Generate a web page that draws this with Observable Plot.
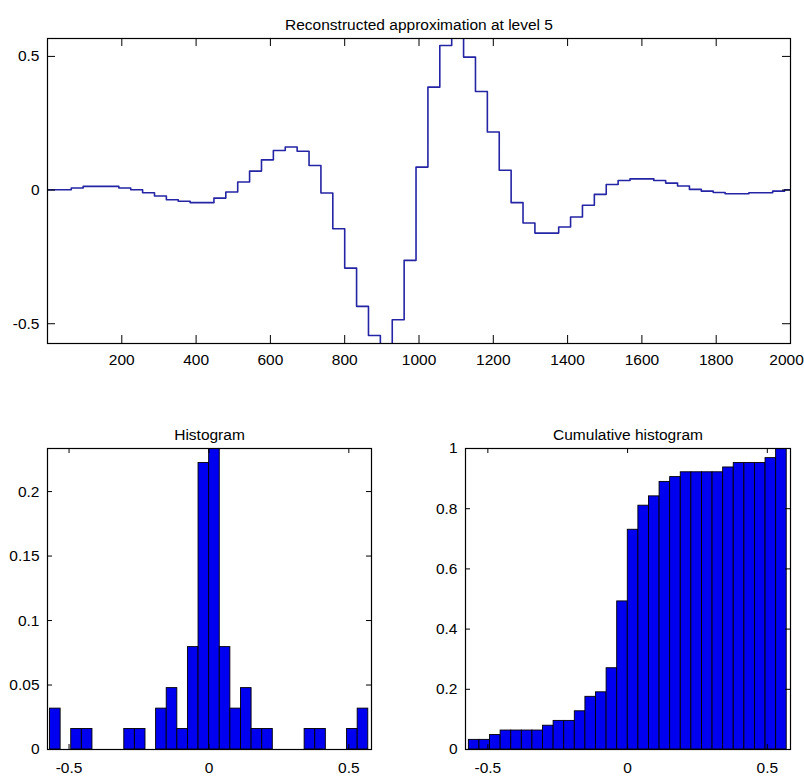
<!DOCTYPE html>
<html><head><meta charset="utf-8">
<script src="https://cdn.jsdelivr.net/npm/d3@7"></script>
<script src="https://cdn.jsdelivr.net/npm/@observablehq/plot@0.6"></script>
<style>
body{margin:0;background:#fff}
#wrap{position:relative;width:804px;height:777px;background:#fff}
.p{position:absolute}
</style>
</head><body><div id="wrap"></div>
<script>
// ---- data ----
const topTitle = "Reconstructed approximation at level 5";
const histTitle = "Histogram";
const cumTitle = "Cumulative histogram";

// level-5 approximation: one value per 32-sample step
const approxValues = [
  0.001, 0.001, 0.0075, 0.0137, 0.0137, 0.0137, 0.0075, 0.001,
  -0.010, -0.022, -0.036, -0.042, -0.047, -0.047, -0.030, -0.0075,
  0.030, 0.071, 0.113, 0.148, 0.161, 0.145, 0.092, -0.011,
  -0.145, -0.292, -0.435, -0.544, -0.62, -0.485, -0.263, 0.086,
  0.385, 0.541, 0.60, 0.4975, 0.369, 0.217, 0.074, -0.047,
  -0.123, -0.161, -0.161, -0.138, -0.101, -0.057, -0.016, 0.021,
  0.036, 0.042, 0.042, 0.036, 0.026, 0.015, 0.0025, -0.004,
  -0.009, -0.014, -0.014, -0.010, -0.010, -0.004, 0.001
];
const stepWidth = 32;
const topXDomain = [0, 2000];
const topYDomain = [-0.574, 0.567];
const topXTicks = [200, 400, 600, 800, 1000, 1200, 1400, 1600, 1800, 2000];
const topYTicks = [-0.5, 0, 0.5];

// histogram (30 bins between data min and max)
const binLow = -0.568, binHigh = 0.5695;
const histFractions = [
  0.0317, 0, 0.0159, 0.0159, 0, 0, 0, 0.0159, 0.0159, 0,
  0.0317, 0.0476, 0.0159, 0.0794, 0.2222, 0.2381, 0.0794, 0.0317, 0.0476, 0.0159,
  0.0159, 0, 0, 0, 0.0159, 0.0159, 0, 0, 0.0159, 0.0317
];
const cumFractions = [
  0.032, 0.032, 0.048, 0.063, 0.063, 0.063, 0.063, 0.079, 0.095, 0.095,
  0.127, 0.175, 0.190, 0.270, 0.492, 0.730, 0.810, 0.841, 0.889, 0.905,
  0.921, 0.921, 0.921, 0.921, 0.937, 0.952, 0.952, 0.952, 0.968, 1.0
];
const histXDomain = [-0.577, 0.581];
const histYDomain = [0, 0.2334];
const cumXDomain = [-0.58, 0.583];
const cumYDomain = [0, 1];
const histXTicks = [-0.5, 0, 0.5];
const histYTicks = [0, 0.05, 0.1, 0.15, 0.2];
const cumYTicks = [0, 0.2, 0.4, 0.6, 0.8, 1];

// ---- helpers ----
const font = "'Liberation Sans', Arial, Helvetica, sans-serif";
const fs = 15.5;
const fmt = d => String(d);
const lineColor = "#2424a4";
const barColor = "#0000f0";

function boxTicks(xt, yt, len, fw, fh) {
  return [
    Plot.tickX(xt, {x: d => d, insetTop: fh - len, stroke: "#000"}),
    Plot.tickX(xt, {x: d => d, insetBottom: fh - len, stroke: "#000"}),
    Plot.tickY(yt, {y: d => d, insetRight: fw - len, stroke: "#000"}),
    Plot.tickY(yt, {y: d => d, insetLeft: fw - len, stroke: "#000"})
  ];
}
function xLabels(xt, pad, dx = 0) {
  return Plot.axisX({ticks: xt, tickSize: 0, tickPadding: pad, tickFormat: fmt, label: null, fill: "#000", fontSize: fs, dx});
}
function yLabels(yt, pad) {
  return Plot.axisY({ticks: yt, tickSize: 0, tickPadding: pad, tickFormat: fmt, label: null, fill: "#000", fontSize: fs});
}
function place(svg, left, top) {
  const d = document.createElement("div");
  d.className = "p";
  d.style.left = left + "px";
  d.style.top = top + "px";
  d.appendChild(svg);
  document.getElementById("wrap").appendChild(d);
}
const baseStyle = {fontFamily: font, fontSize: fs + "px", background: "#fff", color: "#000"};

// ---- top: step line ----
{
  const W = 804, H = 380, ml = 47, mr = 14, mt = 38, mb = 37;
  const pts = approxValues.map((v, k) => ({x: k * stepWidth, y: v}));
  pts.push({x: approxValues.length * stepWidth, y: approxValues[approxValues.length - 1]});
  const lastTick = topXTicks[topXTicks.length - 1];
  const svg = Plot.plot({
    width: W, height: H, marginLeft: ml, marginRight: mr, marginTop: mt, marginBottom: mb,
    style: baseStyle,
    x: {domain: topXDomain, axis: null},
    y: {domain: topYDomain, axis: null},
    marks: [
      Plot.line(pts, {x: "x", y: "y", curve: "step-after", stroke: lineColor, strokeWidth: 1.6, clip: true}),
      ...boxTicks(topXTicks, topYTicks, 8, W - ml - mr, H - mt - mb),
      Plot.frame({stroke: "#000", strokeWidth: 1.2}),
      xLabels(topXTicks.filter(t => t !== lastTick), 10),
      xLabels([lastTick], 10, -4),
      yLabels(topYTicks, 8),
      Plot.text([topTitle], {text: d => d, frameAnchor: "top", dy: -20, fontSize: fs, fill: "#000"})
    ]
  });
  place(svg, 0, 0);
}

// ---- bottom histograms ----
const nBins = histFractions.length;
const binW = (binHigh - binLow) / nBins;
function binned(arr) {
  return arr.map((v, i) => ({x1: binLow + i * binW, x2: binLow + (i + 1) * binW, y: v})).filter(d => d.y > 0);
}
{
  const W = 400, H = 377, ml = 47, mr = 29, mt = 48, mb = 28;
  const svg = Plot.plot({
    width: W, height: H, marginLeft: ml, marginRight: mr, marginTop: mt, marginBottom: mb,
    style: baseStyle,
    x: {domain: histXDomain, axis: null},
    y: {domain: histYDomain, axis: null},
    marks: [
      Plot.rectY(binned(histFractions), {x1: "x1", x2: "x2", y: "y", fill: barColor, stroke: "#000", strokeWidth: 0.9, clip: true}),
      Plot.ruleY([0], {stroke: "#000"}),
      ...boxTicks(histXTicks, histYTicks, 5, W - ml - mr, H - mt - mb),
      Plot.frame({stroke: "#000", strokeWidth: 1.2}),
      xLabels(histXTicks, 12),
      yLabels(histYTicks, 8),
      Plot.text([histTitle], {text: d => d, frameAnchor: "top", dy: -20, fontSize: fs, fill: "#000"})
    ]
  });
  place(svg, 0, 400);
}
{
  const W = 404, H = 377, ml = 65, mr = 14, mt = 48, mb = 28;
  const svg = Plot.plot({
    width: W, height: H, marginLeft: ml, marginRight: mr, marginTop: mt, marginBottom: mb,
    style: baseStyle,
    x: {domain: cumXDomain, axis: null},
    y: {domain: cumYDomain, axis: null},
    marks: [
      Plot.rectY(binned(cumFractions), {x1: "x1", x2: "x2", y: "y", fill: barColor, stroke: "#000", strokeWidth: 0.9, clip: true}),
      Plot.ruleY([0], {stroke: "#000"}),
      ...boxTicks(histXTicks, cumYTicks, 5, W - ml - mr, H - mt - mb),
      Plot.frame({stroke: "#000", strokeWidth: 1.2}),
      xLabels(histXTicks, 12),
      yLabels(cumYTicks, 8),
      Plot.text([cumTitle], {text: d => d, frameAnchor: "top", dy: -20, fontSize: fs, fill: "#000"})
    ]
  });
  place(svg, 400, 400);
}
</script>
</body></html>
